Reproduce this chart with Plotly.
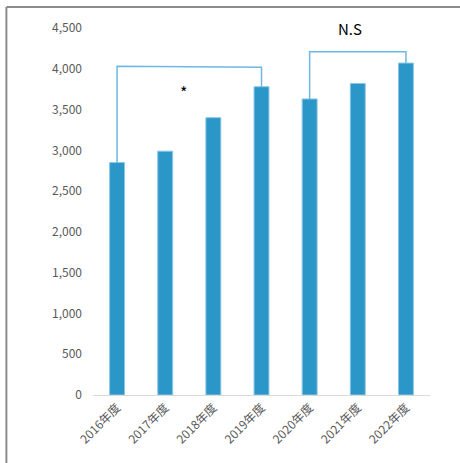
import plotly.graph_objects as go

categories = ["2016年度", "2017年度", "2018年度", "2019年度", "2020年度", "2021年度", "2022年度"]
values = [2850, 2990, 3400, 3780, 3630, 3820, 4070]
y_ticks = [0, 500, 1000, 1500, 2000, 2500, 3000, 3500, 4000, 4500]
y_tick_labels = ["0", "500", "1,000", "1,500", "2,000", "2,500", "3,000", "3,500", "4,000", "4,500"]

bracket1_x = [categories[0], categories[0], categories[3], categories[3]]
bracket1_y = [values[0], 4030, 4020, values[3]]
bracket2_x = [categories[4], categories[4], categories[6], categories[6]]
bracket2_y = [values[4], 4210, 4210, values[6]]

font = "Noto Sans CJK JP, Noto Sans, sans-serif"
bar_color = "#2B96C8"
bracket_color = "#6DB8E4"

fig = go.Figure()
fig.add_trace(go.Bar(x=categories, y=values, marker=dict(color=bar_color, line=dict(color="#8CC6E4", width=1)),
                     width=0.31, showlegend=False, hoverinfo="skip"))
for bx, by in [(bracket1_x, bracket1_y), (bracket2_x, bracket2_y)]:
    fig.add_trace(go.Scatter(x=bx, y=by, mode="lines", line=dict(color=bracket_color, width=1.5),
                             showlegend=False, hoverinfo="skip"))

fig.add_annotation(x=1.37, y=3710, text="*", showarrow=False, font=dict(family=font, size=16, color="#000000"))
fig.add_annotation(x=4.84, y=1.0, yref="paper", yanchor="middle", text="N.S", showarrow=False,
                   font=dict(family=font, size=15, color="#000000"))

# outer frame (top and left edges visible)
fig.add_shape(type="line", xref="paper", yref="paper", x0=-0.257, x1=-0.257, y0=-0.3, y1=1.057,
              line=dict(color="#8C8C8C", width=2))
fig.add_shape(type="line", xref="paper", yref="paper", x0=-0.257, x1=1.2, y0=1.057, y1=1.057,
              line=dict(color="#8C8C8C", width=2))

fig.update_layout(
    width=460, height=463,
    margin=dict(l=93, r=30, t=28, b=68, autoexpand=False),
    plot_bgcolor="white", paper_bgcolor="white",
    font=dict(family=font, size=12, color="#595959"),
    bargap=0.69,
)
fig.update_xaxes(showline=True, linecolor="#D9D9D9", linewidth=1, ticks="", tickangle=-45, automargin=False,
                 tickfont=dict(size=12, color="#595959"), showgrid=False)
fig.update_yaxes(range=[0, 4500], tickvals=y_ticks, ticktext=y_tick_labels, showgrid=False, zeroline=False,
                 showline=False, ticks="", ticklabelstandoff=10, automargin=False,
                 tickfont=dict(size=12, color="#595959"))

fig.write_html("out.html", config={"displayModeBar": False},
               post_script="document.body.style.margin='0';document.body.style.overflow='hidden';")
